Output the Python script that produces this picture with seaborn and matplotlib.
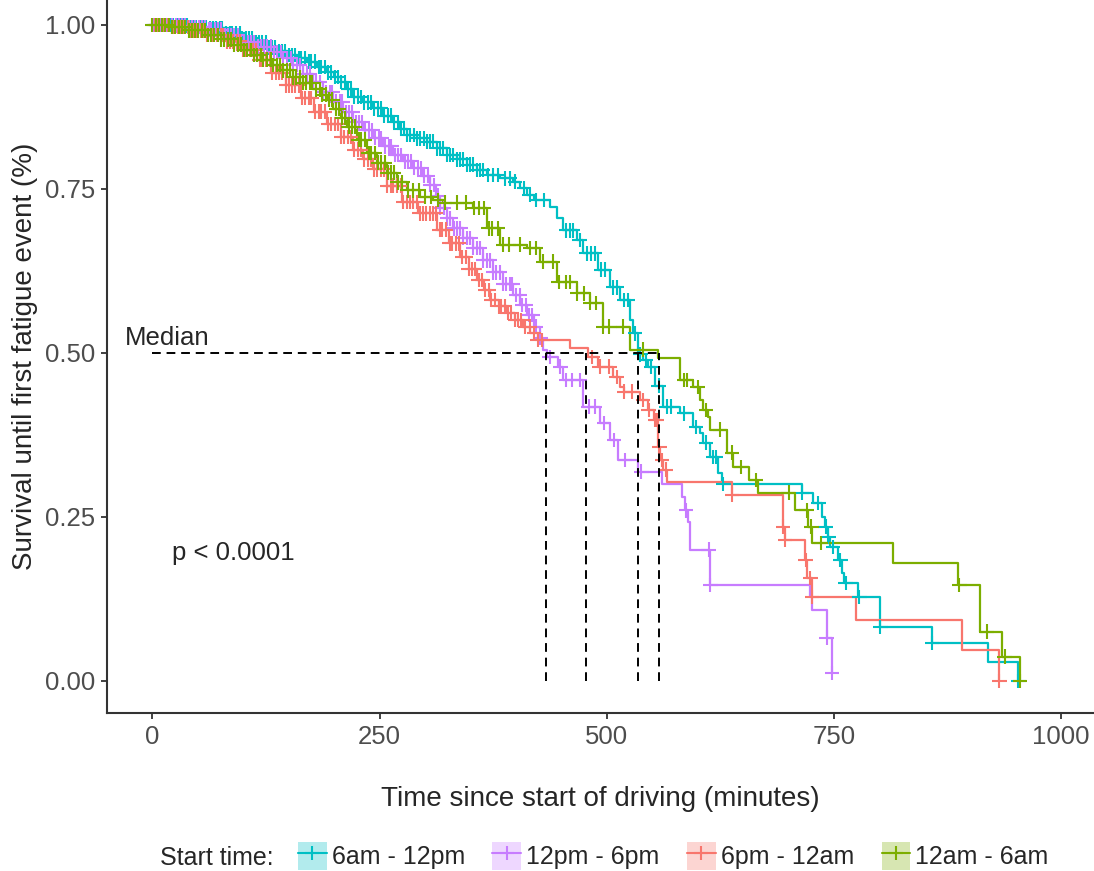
import numpy as np
import pandas as pd
import seaborn as sns
import matplotlib
matplotlib.use("Agg")
import matplotlib.pyplot as plt
from matplotlib.patches import Patch
from matplotlib.lines import Line2D
from matplotlib.legend_handler import HandlerTuple

# groups and colours (legend order)
groups = ["6am - 12pm", "12pm - 6pm", "6pm - 12am", "12am - 6am"]
colors = ["#00BFC4", "#C77CFF", "#F8766D", "#7CAE00"]

# Kaplan-Meier step points (time in minutes, survival)
t_morning = [0, 20, 40, 60, 80, 97, 112, 126, 137, 148, 159, 170, 181, 192, 200, 207, 214, 221, 232, 243,
             254, 265, 272, 280, 291, 302, 313, 324, 335, 346, 357, 368, 383, 397, 405, 412, 420, 438, 445, 452,
             467, 474, 490, 504, 515, 526, 529, 534, 540, 545, 553, 562, 581, 595, 603, 606, 614, 622, 627, 715,
             727, 737, 740, 743, 746, 754, 759, 761, 776, 801, 858, 920, 953]
s_morning = [1.0, 0.999, 0.997, 0.995, 0.988, 0.98, 0.973, 0.966, 0.96, 0.954, 0.949, 0.944, 0.936, 0.928, 0.921,
             0.913, 0.902, 0.89, 0.882, 0.873, 0.862, 0.852, 0.842, 0.832, 0.827, 0.822, 0.812, 0.802, 0.795, 0.787,
             0.779, 0.771, 0.766, 0.761, 0.751, 0.741, 0.733, 0.723, 0.705, 0.687, 0.672, 0.652, 0.627, 0.60,
             0.581, 0.55, 0.53, 0.498, 0.489, 0.479, 0.45, 0.418, 0.408, 0.387, 0.378, 0.363, 0.341, 0.317, 0.30,
             0.287, 0.271, 0.25, 0.235, 0.22, 0.204, 0.184, 0.165, 0.149, 0.128, 0.082, 0.058, 0.029, 0.0]

t_afternoon = [0, 20, 40, 60, 80, 97, 115, 133, 144, 155, 166, 177, 188, 199, 210, 221, 232, 243, 254, 265,
               276, 287, 297, 306, 312, 317, 324, 331, 342, 353, 364, 375, 386, 397, 405, 412, 420, 427, 430, 434,
               446, 452, 474, 493, 504, 512, 534, 561, 583, 586, 589, 592, 614, 724, 726, 742, 748]
s_afternoon = [1.0, 0.999, 0.997, 0.993, 0.985, 0.974, 0.967, 0.959, 0.949, 0.939, 0.926, 0.913, 0.898, 0.883,
               0.867, 0.852, 0.84, 0.828, 0.815, 0.802, 0.792, 0.782, 0.77, 0.756, 0.74, 0.721, 0.705, 0.69, 0.675,
               0.66, 0.641, 0.623, 0.605, 0.588, 0.573, 0.558, 0.54, 0.523, 0.505, 0.494, 0.479, 0.459, 0.418,
               0.393, 0.367, 0.337, 0.319, 0.30, 0.28, 0.26, 0.242, 0.20, 0.146, 0.128, 0.108, 0.066, 0.012]

t_evening = [0, 20, 40, 60, 80, 100, 115, 130, 147, 163, 178, 192, 207, 221, 232, 243, 258, 275, 292, 313,
             326, 339, 348, 357, 365, 372, 381, 390, 399, 408, 416, 424, 460, 479, 490, 507, 515, 519, 537, 545,
             552, 556, 559, 562, 566, 638, 694, 696, 718, 720, 726, 774, 891, 932]
s_evening = [1.0, 0.997, 0.992, 0.985, 0.975, 0.962, 0.947, 0.927, 0.908, 0.889, 0.868, 0.849, 0.829, 0.81,
             0.795, 0.78, 0.755, 0.73, 0.713, 0.688, 0.667, 0.646, 0.628, 0.611, 0.596, 0.581, 0.571, 0.561, 0.55,
             0.54, 0.53, 0.52, 0.508, 0.494, 0.479, 0.463, 0.448, 0.441, 0.428, 0.413, 0.398, 0.357, 0.337, 0.322,
             0.303, 0.284, 0.235, 0.215, 0.184, 0.157, 0.128, 0.093, 0.047, 0.0]

t_night = [0, 20, 40, 60, 75, 89, 100, 111, 122, 133, 144, 155, 166, 177, 185, 192, 199, 207, 214, 225,
           236, 247, 258, 269, 280, 295, 309, 320, 353, 368, 383, 412, 427, 445, 467, 482, 496, 526, 556, 581,
           595, 603, 606, 611, 614, 632, 639, 656, 666, 707, 721, 726, 815, 886, 911, 935, 955]
s_night = [1.0, 0.997, 0.992, 0.985, 0.978, 0.97, 0.962, 0.954, 0.947, 0.939, 0.931, 0.92, 0.912, 0.902, 0.894,
           0.886, 0.872, 0.858, 0.845, 0.825, 0.805, 0.79, 0.775, 0.76, 0.748, 0.738, 0.733, 0.729, 0.721, 0.69,
           0.665, 0.66, 0.639, 0.608, 0.591, 0.576, 0.54, 0.505, 0.492, 0.459, 0.448, 0.428, 0.413, 0.402, 0.383,
           0.348, 0.326, 0.306, 0.287, 0.26, 0.235, 0.21, 0.18, 0.146, 0.075, 0.037, 0.0]

# censoring times (+ marks)
c_morning = [2, 5, 9, 12, 16, 19, 23, 27, 30, 34, 38, 41, 45, 48, 52, 56, 59, 63, 67, 70, 74, 77, 81, 85, 88, 92,
             96, 99, 103, 106, 110, 114, 117, 121, 125, 128, 132, 135, 139, 143, 146, 150, 154, 157, 161, 164, 168,
             172, 175, 179, 183, 186, 190, 193, 197, 201, 204, 208, 212, 215, 219, 222, 226, 230, 233, 237, 241,
             244, 248, 251, 255, 259, 262, 266, 270, 273, 277, 280, 284, 288, 291, 295, 299, 302, 306, 309, 313,
             317, 320, 324, 328, 331, 335, 338, 342, 346, 349, 353, 357, 360, 364, 369, 375, 380, 388, 393, 399,
             409, 415, 422, 431, 455, 459, 463, 470, 478, 483, 487, 494, 498, 507, 511, 519, 523, 531, 537, 543,
             549, 557, 566, 571, 585, 598, 609, 617, 620, 628, 715, 733, 741, 744, 749, 757, 763, 778, 801, 858, 953]
c_afternoon = [1, 4, 8, 11, 15, 18, 22, 26, 29, 33, 36, 40, 44, 47, 51, 54, 58, 62, 65, 69, 72, 76, 80, 83, 87, 90,
               94, 98, 101, 105, 108, 112, 116, 119, 123, 126, 130, 134, 137, 141, 144, 148, 152, 155, 159, 162,
               166, 170, 173, 177, 180, 184, 188, 191, 195, 198, 202, 206, 209, 213, 216, 220, 224, 227, 231, 234,
               238, 242, 245, 249, 252, 256, 260, 263, 267, 270, 274, 278, 281, 285, 288, 292, 296, 299, 303, 306,
               310, 314, 317, 321, 324, 328, 332, 335, 339, 342, 346, 350, 353, 357, 360, 364, 368, 371, 375, 378,
               382, 386, 389, 393, 396, 400, 404, 407, 411, 414, 418, 422, 427, 437, 449, 455, 462, 470, 480, 487,
               497, 508, 520, 538, 587, 612, 614, 742, 748]
c_evening = [3, 6, 10, 13, 17, 21, 24, 28, 31, 35, 39, 42, 46, 49, 53, 57, 60, 64, 67, 71, 75, 78, 82, 85, 89, 93,
             96, 100, 103, 107, 111, 114, 118, 121, 125, 129, 132, 136, 139, 143, 147, 150, 154, 157, 161, 165,
             168, 172, 175, 179, 183, 186, 190, 193, 197, 201, 204, 208, 211, 215, 219, 222, 226, 229, 233, 237,
             240, 244, 247, 251, 255, 258, 262, 265, 269, 273, 276, 280, 283, 287, 291, 294, 298, 301, 305, 309,
             312, 316, 319, 323, 327, 330, 334, 337, 341, 345, 348, 352, 355, 359, 363, 366, 370, 373, 377, 381,
             384, 388, 391, 395, 399, 402, 406, 410, 415, 420, 424, 429, 484, 492, 503, 511, 519, 528, 540, 546,
             553, 555, 558, 561, 565, 638, 694, 696, 719, 724, 726, 932]
c_night = [0, 4, 7, 11, 14, 18, 22, 25, 29, 32, 36, 40, 43, 47, 50, 54, 58, 61, 65, 68, 72, 76, 79, 83, 86, 90, 94,
           97, 101, 104, 108, 112, 115, 119, 122, 126, 130, 133, 137, 140, 144, 148, 151, 155, 158, 162, 166, 169,
           173, 176, 180, 184, 187, 191, 194, 198, 202, 205, 209, 212, 216, 220, 223, 227, 230, 234, 238, 241, 245,
           248, 252, 256, 259, 263, 266, 270, 275, 281, 287, 293, 300, 307, 314, 322, 335, 345, 354, 359, 365, 370,
           374, 380, 386, 392, 405, 416, 422, 430, 441, 447, 455, 460, 467, 475, 482, 488, 496, 503, 518, 540, 585,
           588, 600, 609, 625, 638, 648, 664, 700, 720, 725, 736, 888, 918, 938, 955]

# median survival times (dashed guides)
median_times = [534, 433, 477, 557]

x_ticks = [0, 250, 500, 750, 1000]
y_ticks = [0.0, 0.25, 0.5, 0.75, 1.0]

curve_t = [t_morning, t_afternoon, t_evening, t_night]
curve_s = [s_morning, s_afternoon, s_evening, s_night]
cens_t = [c_morning, c_afternoon, c_evening, c_night]

# build long-form tables
curves = pd.concat([pd.DataFrame({"time": t, "surv": s, "group": g})
                    for t, s, g in zip(curve_t, curve_s, groups)], ignore_index=True)

cens_frames = []
for t, s, c, g in zip(curve_t, curve_s, cens_t, groups):
    idx = np.searchsorted(t, c, side="right") - 1
    cens_frames.append(pd.DataFrame({"time": c, "surv": np.asarray(s)[idx], "group": g}))
censored = pd.concat(cens_frames, ignore_index=True)

sns.set_style("ticks")
plt.rcParams["font.family"] = ["Liberation Sans", "DejaVu Sans"]

W, H = 1094, 871
fig = plt.figure(figsize=(W / 100, H / 100), dpi=100)
ax = fig.add_axes([107 / W, 158 / H, 1 - 107 / W, 1 - 158 / H])

palette = dict(zip(groups, colors))

sns.lineplot(data=curves, x="time", y="surv", hue="group", hue_order=groups, palette=palette,
             estimator=None, drawstyle="steps-post", lw=1.6, legend=False, ax=ax)
sns.scatterplot(data=censored, x="time", y="surv", hue="group", hue_order=groups, palette=palette,
                marker="+", s=110, linewidth=1.5, legend=False, ax=ax, zorder=3)

# median guides
ax.plot([0, max(median_times)], [0.5, 0.5], color="black", lw=1.4, ls=(0, (4.5, 3)), zorder=4)
for m in median_times:
    ax.plot([m, m], [0, 0.5], color="black", lw=1.4, ls=(0, (4.5, 3)), zorder=4)

ax.text(-30, 0.512, "Median", fontsize=18.5, ha="left", va="baseline")
ax.text(22, 0.184, "p < 0.0001", fontsize=18.5, ha="left", va="baseline")

ax.set_xlim(-50, (W - 152) * 1.1)
ax.set_ylim(-0.049, 1 + 25 / 656)
ax.set_xticks(x_ticks)
ax.set_xticklabels([str(v) for v in x_ticks])
ax.set_yticks(y_ticks)
ax.set_yticklabels([f"{v:.2f}" for v in y_ticks])

for side in ["top", "right"]:
    ax.spines[side].set_visible(False)
for side in ["left", "bottom"]:
    ax.spines[side].set_color("#333333")
    ax.spines[side].set_linewidth(1.5)
ax.tick_params(length=4.5, width=1.3, color="#333333", labelsize=18.5, labelcolor="#4D4D4D", pad=4)

ax.set_xlabel("Time since start of driving (minutes)", fontsize=20, labelpad=27)
ax.set_ylabel("Survival until first fatigue event (%)", fontsize=20, labelpad=5)

# legend at the bottom
fig.text(160 / W, 1 - 858 / H, "Start time:", fontsize=18, ha="left", va="center")
handles = [(Patch(facecolor=c, alpha=0.3, edgecolor="none"),
            Line2D([], [], color=c, lw=1.5, marker="+", markersize=10, mew=1.5)) for c in colors]
fig.legend(handles, groups, loc="center left", bbox_to_anchor=(298 / W, 1 - 856 / H), ncol=4,
           frameon=False, fontsize=18, handlelength=1.15, handleheight=1.4, handletextpad=0.2,
           columnspacing=1.1, borderpad=0, borderaxespad=0,
           handler_map={tuple: HandlerTuple(ndivide=1)})

fig.savefig("out.png", dpi=100)
